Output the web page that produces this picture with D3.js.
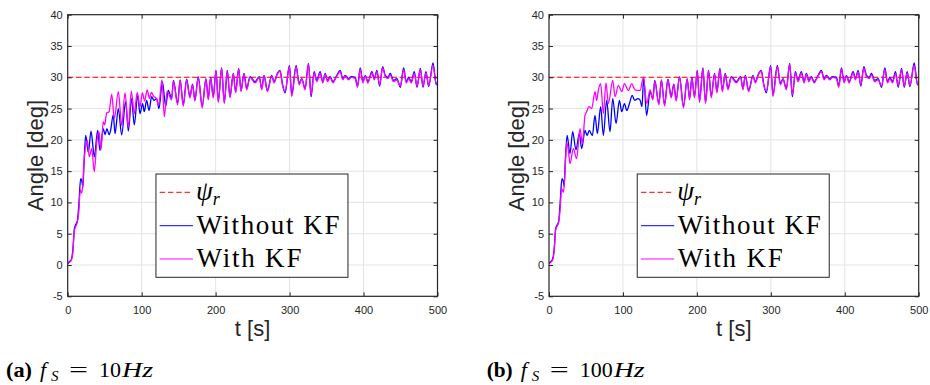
<!DOCTYPE html>
<html><head><meta charset="utf-8">
<script src="https://cdn.jsdelivr.net/npm/d3@7"></script>
<style>body{margin:0;background:#fff}svg{display:block}</style>
</head><body><svg id="c" width="930" height="385"></svg>
<script>
const xTicks = [0,100,200,300,400,500];
const yTicks = [-5,0,5,10,15,20,25,30,35,40];
const reference = [[0,30],[500,30]];

// transient part, panel (a) fS = 10 Hz
const withoutKF_a = [[0,0.3],[3,0.6],[5,0.9],[7,2.5],[9,5.8],[11,6.5],[13,7.0],[15,9.5],[17.5,13.8],[19.5,13.2],[20.5,12.4],[22,16],[24.3,20.7],[27.9,18.0],[31.5,21.4],[36,17.3],[40.5,21.5],[43.7,18.3],[48.1,21.8],[50.5,20.8],[53,21.8],[56,20.8],[58,21.5],[61.6,24.0],[64,21.0],[68.4,25.0],[73,20.8],[78.3,26.1],[82,21.4],[86.4,26.6],[90,22.4],[94.6,27.1],[97.7,24.2],[101.3,25.8],[103.5,24.5],[106.7,26.3],[110,24.7],[113.5,26.9],[116.6,26.3],[120.3,26.6],[123.4,25.0],[128,29.3],[132.5,25.4],[136,27.9]];
const withKF_a = [[0,0.2],[3,0.5],[5,0.8],[7,2.0],[9,5.5],[11,6.2],[13,6.8],[15,8.5],[17,12.0],[19,11.5],[20.5,13.0],[22,16.5],[23.4,18.3],[26.5,19.9],[29.2,17.3],[32.4,18.6],[36,14.9],[39.1,19.4],[42.3,21.3],[45,18.4],[48,22.9],[50,22.4],[52.7,24.3],[55.9,24.5],[59.5,27.3],[63,23.4],[68.5,27.7],[73,22.3],[77.5,27.5],[82,22.0],[86,27.8],[90,24.2],[94,27.6],[97.7,25.3],[101,27.5],[104,26.2],[107.5,28.0],[110.5,26.6],[113,27.6],[116,27.0],[120,26.6],[123,25.5],[127.5,29.6],[130.6,23.7],[134.5,27.8]];

// transient part, panel (b) fS = 100 Hz
const withoutKF_b = [[0,0.3],[3,0.6],[5,1.0],[7,2.6],[9,5.8],[11,6.4],[13,6.9],[15,9.8],[17.5,13.8],[19.5,13.3],[20.5,12.6],[22,16.5],[24.5,20.7],[28.4,17.8],[32,21.3],[36.5,18.4],[41,21.0],[44.2,18.6],[48.7,21.5],[51.5,20.7],[54.5,21.5],[58.6,20.7],[62.2,23.9],[65.4,21.0],[69.9,25.3],[73.5,20.7],[78,26.3],[82.5,21.3],[86.2,26.6],[90.7,22.6],[95.2,26.3],[98.4,24.5],[102,25.8],[105.2,24.7],[108.8,25.8],[112.5,27.1],[116,26.3],[120,26.6],[123,26.4],[125.8,25.3],[128,30.0],[132,23.9],[136.7,27.7]];
const withKF_b = [[0,0.2],[3,0.5],[5,0.8],[7,2.2],[9,5.6],[11,6.2],[13,6.8],[15,8.8],[17,12.2],[19.5,11.6],[21,13.5],[22.5,17],[24,19.6],[26.1,18.4],[28.4,16.2],[32.9,18.6],[37.4,17.0],[41.9,21.8],[45.1,19.4],[48.7,23.9],[50.9,24.5],[54.1,25.3],[57.7,25.0],[62.2,27.7],[64.5,26.3],[66.7,27.9],[69.9,29.0],[73.5,24.2],[77.1,29.1],[80.3,25.8],[86.2,29.5],[89.3,26.9],[93.8,28.7],[98.4,27.7],[102,29.0],[107.4,27.9],[111.9,29.0],[115.1,28.2],[117.8,27.9],[123.2,27.9],[127.7,30.0],[132.2,25.8],[136.7,28.0]];

// steady part (visually identical in both panels)
const steadyWithoutKF = [[140.5,26.6],[143,29.5],[148.6,25.8],[152,29.6],[156.3,25.6],[160.8,29.7],[165.2,26.9],[168.8,28.9],[172,26.4],[176.5,30.1],[181.9,25.4],[186.9,29.8],[190.1,26.6],[193.2,30.0],[196.8,26.9],[200.5,31.1],[203.6,26.2],[208.1,31.5],[211.7,26.0],[215.8,31.1],[219.4,26.9],[223.9,30.6],[227.1,27.7],[231.2,31.4],[234.3,27.9],[238.4,30.6],[242.0,28.2],[246.5,30.1],[253.3,29.3],[259.1,30.1],[262.3,28.2],[265.5,30.3],[270.0,27.9],[275.9,30.3],[279.0,29.3],[283.5,30.6],[287.1,31.1],[290.3,29.0],[293.9,27.5],[299.8,31.9],[302.9,27.2],[308.8,31.9],[312.9,29.0],[316.5,29.8],[321.0,28.2],[325.5,32.2],[329.1,26.9],[333.2,30.9],[336.8,29.5],[341.3,30.9],[344.9,29.3],[348.1,30.6],[351.3,29.5],[354.9,30.1],[358.5,29.3],[363.9,30.3],[368.4,31.1],[372.0,29.8],[375.2,30.3],[379.7,29.8],[383.3,30.1],[388.7,30.0],[391.9,28.6],[395.5,31.5],[399.1,29.3],[402.3,30.3],[405.9,29.3],[411.3,30.9],[414.5,29.8],[418.1,31.1],[421.7,28.6],[425.8,31.7],[429.4,30.3],[433.0,30.0],[436.1,30.6],[440.6,29.5],[445.2,29.8],[449.7,28.4],[454.2,31.5],[457.8,29.3],[461.0,30.0],[464.6,29.3],[468.6,30.9],[472.3,28.4],[476.8,31.4],[480.4,28.4],[484.4,30.9],[488.1,28.5],[493.9,32.3],[498.4,28.8],[500,29.2]];
const steadyWithKF = [[140.5,26.4],[143,29.4],[148.6,25.6],[152,29.5],[156.3,25.4],[160.8,29.6],[165.2,26.7],[168.8,28.8],[172,26.2],[176.5,30.0],[181.9,25.1],[186.9,29.7],[190.1,26.4],[193.2,29.9],[196.8,26.7],[200.5,31.0],[203.6,26.0],[208.1,31.4],[211.7,25.8],[215.8,31.0],[219.4,26.7],[223.9,30.5],[227.1,27.5],[231.2,31.3],[234.3,27.7],[238.4,30.5],[242.0,28.0],[246.5,30.0],[253.3,29.1],[259.1,30.0],[262.3,28.0],[265.5,30.2],[270.0,27.7],[275.9,30.2],[279.0,29.1],[283.5,30.5],[287.1,31.0],[290.3,28.8],[293.9,27.8],[299.8,31.7],[302.9,26.9],[308.8,31.7],[312.9,28.8],[316.5,29.7],[321.0,28.0],[325.5,32.1],[329.1,27.2],[333.2,30.7],[336.8,29.3],[341.3,30.7],[344.9,29.1],[348.1,30.5],[351.3,29.3],[354.9,30.0],[358.5,29.1],[363.9,30.2],[368.4,30.9],[372.0,29.6],[375.2,30.2],[379.7,29.6],[383.3,30.0],[388.7,29.8],[391.9,28.4],[395.5,31.3],[399.1,29.1],[402.3,30.2],[405.9,29.1],[411.3,30.7],[414.5,29.6],[418.1,30.9],[421.7,28.8],[425.8,31.5],[429.4,30.1],[433.0,29.8],[436.1,30.4],[440.6,29.3],[445.2,29.6],[449.7,28.6],[454.2,31.2],[457.8,29.1],[461.0,29.8],[464.6,29.1],[468.6,30.6],[472.3,28.6],[476.8,31.2],[480.4,28.6],[484.4,30.7],[488.1,28.7],[493.9,31.9],[498.4,28.9],[500,29.0]];

const legendLabels = ["Without KF","With KF"];
const captionLetters = ["(a)","(b)"];
const captionFreq = ["10","100"];

const svg = d3.select("#c");
const AX = "#262626";
const panels = [
  {x0:67.7, x1:437.5, without:withoutKF_a.concat(steadyWithoutKF), with:withKF_a.concat(steadyWithKF), cap:0, capX:6},
  {x0:549, x1:918.7, without:withoutKF_b.concat(steadyWithoutKF), with:withKF_b.concat(steadyWithKF), cap:1, capX:486.7}
];
const yTop = 14.7, yBot = 296.3;

panels.forEach((p,i) => {
  const x = d3.scaleLinear().domain([0,500]).range([p.x0,p.x1]);
  const y = d3.scaleLinear().domain([-5,40]).range([yBot,yTop]);
  const g = svg.append("g");
  // grid
  g.append("g").selectAll("line").data(xTicks.slice(1,-1)).join("line")
    .attr("x1",d=>x(d)).attr("x2",d=>x(d)).attr("y1",yTop).attr("y2",yBot)
    .attr("stroke","#e3e3e3").attr("stroke-width",1);
  g.append("g").selectAll("line").data(yTicks.slice(1,-1)).join("line")
    .attr("y1",d=>y(d)).attr("y2",d=>y(d)).attr("x1",p.x0).attr("x2",p.x1)
    .attr("stroke","#e3e3e3").attr("stroke-width",1);
  // data
  const cid = "clip"+i;
  svg.append("clipPath").attr("id",cid).append("rect")
    .attr("x",p.x0).attr("y",yTop).attr("width",p.x1-p.x0).attr("height",yBot-yTop);
  const line = d3.line().x(d=>x(d[0])).y(d=>y(d[1])).curve(d3.curveMonotoneX);
  const dg = g.append("g").attr("clip-path",`url(#${cid})`);
  dg.append("path").attr("d",d3.line().x(d=>x(d[0])).y(d=>y(d[1]))(reference))
    .attr("fill","none").attr("stroke","#ff0000").attr("stroke-width",1).attr("stroke-dasharray","5.5,2.8");
  dg.append("path").attr("d",line(p.without)).attr("fill","none").attr("stroke","#0000ff").attr("stroke-width",1.3);
  dg.append("path").attr("d",line(p.with)).attr("fill","none").attr("stroke","#ff00ff").attr("stroke-width",1.3);
  // axes
  const fontAx = "'Liberation Sans', Arial, sans-serif";
  const ax = g.append("g").attr("transform",`translate(0,${yBot})`)
    .call(d3.axisBottom(x).tickValues(xTicks).tickSize(-4).tickPadding(9.5).tickFormat(d3.format("d")));
  const ay = g.append("g").attr("transform",`translate(${p.x0},0)`)
    .call(d3.axisLeft(y).tickValues(yTicks).tickSize(-4).tickPadding(5).tickFormat(d=>d<0?"-"+Math.abs(d):d));
  const at = g.append("g").attr("transform",`translate(0,${yTop})`)
    .call(d3.axisTop(x).tickValues(xTicks).tickSize(-4).tickFormat(""));
  const ar = g.append("g").attr("transform",`translate(${p.x1},0)`)
    .call(d3.axisRight(y).tickValues(yTicks).tickSize(-4).tickFormat(""));
  [ax,ay,at,ar].forEach(a=>{
    a.select(".domain").remove();
    a.selectAll("line").attr("stroke",AX).attr("stroke-width",1);
    a.selectAll("text").attr("fill",AX).style("font-family",fontAx).style("font-size","11px");
  });
  g.append("rect").attr("x",p.x0).attr("y",yTop).attr("width",p.x1-p.x0).attr("height",yBot-yTop)
    .attr("fill","none").attr("stroke",AX).attr("stroke-width",1.2);
  // axis labels
  g.append("text").attr("x",(p.x0+p.x1)/2).attr("y",336).attr("text-anchor","middle")
    .style("font-family",fontAx).style("font-size","22px").attr("fill",AX).text("t [s]");
  g.append("text").attr("transform",`translate(${p.x0-25.2},${(yTop+yBot)/2}) rotate(-90)`)
    .attr("text-anchor","middle").style("font-family",fontAx).style("font-size","22px").attr("fill",AX).text("Angle [deg]");
  // legend
  const lx = x(120) - 0.5, ly = 174;
  const lg = g.append("g");
  lg.append("rect").attr("x",lx).attr("y",ly).attr("width",192).attr("height",103.3)
    .attr("fill","#fff").attr("stroke",AX).attr("stroke-width",1);
  const rows = [192.3,225.7,259];
  const serif = "'Liberation Serif', 'Times New Roman', serif";
  lg.append("line").attr("x1",lx+3.7).attr("x2",lx+37).attr("y1",rows[0]).attr("y2",rows[0])
    .attr("stroke","#ff0000").attr("stroke-width",1).attr("stroke-dasharray","5.5,2.8");
  lg.append("line").attr("x1",lx+3.7).attr("x2",lx+37).attr("y1",rows[1]).attr("y2",rows[1])
    .attr("stroke","#0000ff").attr("stroke-width",1);
  lg.append("line").attr("x1",lx+3.7).attr("x2",lx+37).attr("y1",rows[2]).attr("y2",rows[2])
    .attr("stroke","#ff00ff").attr("stroke-width",1);
  const psi = lg.append("text").attr("x",lx+40).attr("y",rows[0]+8).style("font-family",serif)
    .style("font-size","27px").style("font-style","italic").attr("fill","#000");
  psi.append("tspan").text("ψ");
  psi.append("tspan").attr("dy",5).style("font-size","18px").text("r");
  const widths = [143,105];
  legendLabels.forEach((t,k)=>{
    lg.append("text").attr("x",lx+40.5).attr("y",rows[k+1]+8).style("font-family",serif)
      .style("font-size","27px").attr("fill","#000").attr("textLength",widths[k]).attr("lengthAdjust","spacing").text(t);
  });
  // caption
  const cx = p.capX, cy = 377;
  const nd = captionFreq[p.cap].length;
  svg.append("text").attr("x",cx).attr("y",cy).style("font-family",serif).style("font-size","21px")
    .style("font-weight","bold").attr("textLength",26).attr("lengthAdjust","spacingAndGlyphs").text(captionLetters[p.cap]);
  svg.append("text").attr("x",cx+34).attr("y",cy).style("font-family",serif).style("font-size","22px")
    .style("font-style","italic").text("f");
  svg.append("text").attr("x",cx+45).attr("y",cy+4).style("font-family",serif).style("font-size","15px")
    .style("font-style","italic").text("S");
  svg.append("text").attr("x",cx+63).attr("y",cy).style("font-family",serif).style("font-size","22px")
    .attr("textLength",19).attr("lengthAdjust","spacingAndGlyphs").text("=");
  svg.append("text").attr("x",cx+93).attr("y",cy).style("font-family",serif).style("font-size","22px")
    .attr("textLength",11*nd).attr("lengthAdjust","spacingAndGlyphs").text(captionFreq[p.cap]);
  svg.append("text").attr("x",cx+93+11*nd+1).attr("y",cy).style("font-family",serif).style("font-size","22px")
    .style("font-style","italic").attr("textLength",31).attr("lengthAdjust","spacingAndGlyphs").text("Hz");
});
</script></body></html>
